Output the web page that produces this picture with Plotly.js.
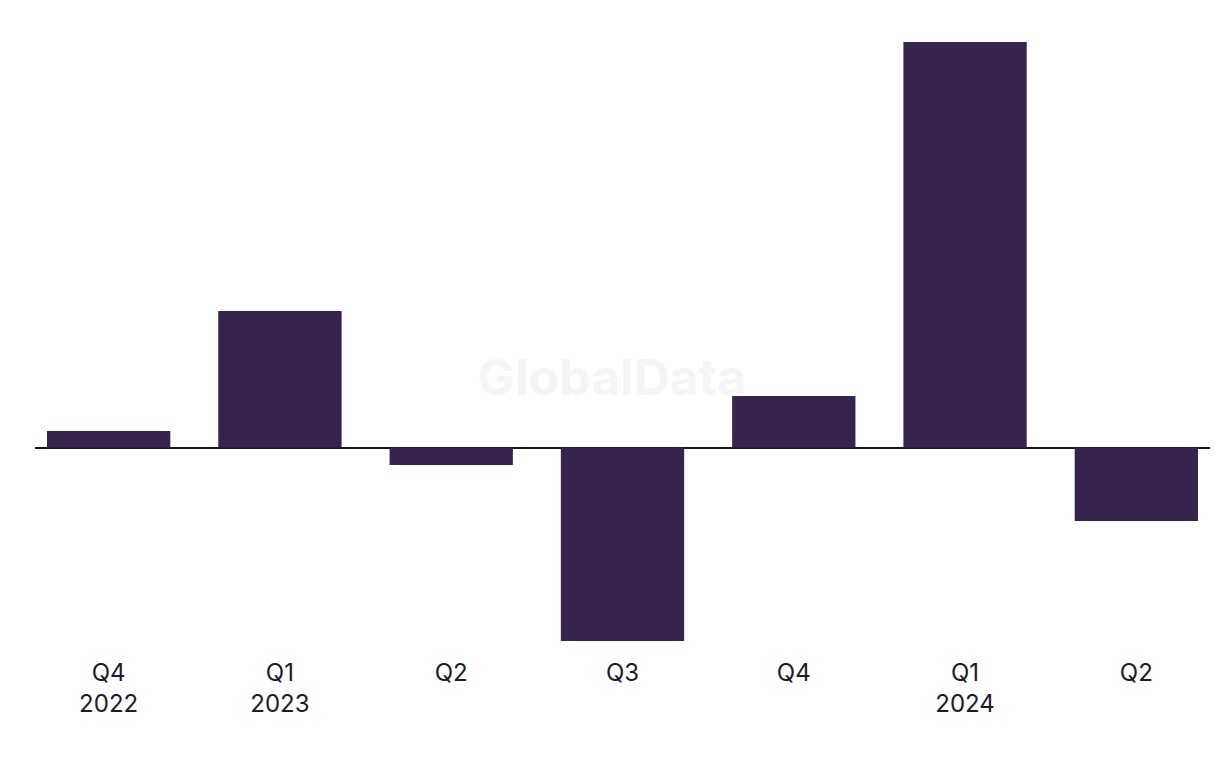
<!DOCTYPE html>
<html>
<head>
<meta charset="utf-8">
<script src="https://cdn.plot.ly/plotly-3.0.1.min.js"></script>
<style>html,body{margin:0;padding:0;background:#fff;}#chart{width:1220px;height:768px;}</style>
</head>
<body>
<div id="chart"></div>
<script>
const quarters = ["Q4<br>2022", "Q1<br>2023", "Q2", "Q3", "Q4", "Q1<br>2024", "Q2"];
const values = [1.65, 13.65, -1.75, -19.35, 5.15, 40.55, -7.35];
const watermark = "GlobalData";
const xIdx = quarters.map((_, i) => i);

const wmTrace = {
  type: "scatter",
  mode: "text",
  x: [0.491],
  y: [0.424],
  text: [watermark],
  textposition: "middle center",
  textfont: {family: "Inter, sans-serif", size: 50, color: "#f5f5f5", weight: 700},
  xaxis: "x",
  yaxis: "y",
  hoverinfo: "skip"
};

const barTrace = {
  type: "bar",
  x: xIdx,
  y: values,
  marker: {color: "#36244f"},
  xaxis: "x2",
  yaxis: "y2",
  hoverinfo: "skip"
};

const layout = {
  width: 1220,
  height: 768,
  margin: {l: 35, r: 10, t: 20, b: 118},
  paper_bgcolor: "#ffffff",
  plot_bgcolor: "#ffffff",
  bargap: 0.28,
  showlegend: false,
  font: {family: "Inter, 'Open Sans', sans-serif", color: "#1a1a2e", size: 24},
  xaxis: {range: [0, 1], visible: false, fixedrange: true},
  yaxis: {range: [0, 1], visible: false, fixedrange: true},
  xaxis2: {
    overlaying: "x",
    anchor: "y2",
    side: "bottom",
    tickmode: "array",
    tickvals: xIdx,
    ticktext: quarters,
    range: [-0.43, 6.43],
    showgrid: false,
    zeroline: false,
    showline: false,
    ticks: "",
    ticklabelstandoff: 6,
    tickfont: {size: 24, color: "#1a1a2e"}
  },
  yaxis2: {
    overlaying: "y",
    anchor: "x2",
    range: [-20.25, 42.75],
    showgrid: false,
    showticklabels: false,
    zeroline: true,
    zerolinecolor: "#14142b",
    zerolinewidth: 2,
    ticks: ""
  }
};

Plotly.newPlot("chart", [wmTrace, barTrace], layout, {displayModeBar: false, staticPlot: true});
</script>
</body>
</html>
